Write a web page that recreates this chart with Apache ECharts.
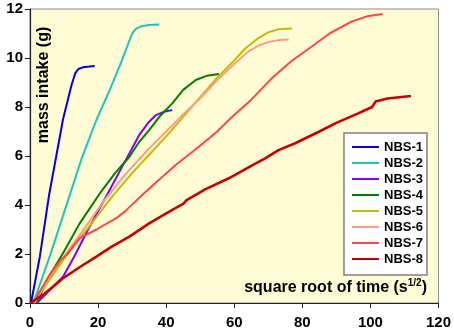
<!DOCTYPE html>
<html>
<head>
<meta charset="utf-8">
<script src="https://cdn.jsdelivr.net/npm/echarts@6/dist/echarts.min.js"></script>
<style>
  html, body { margin: 0; padding: 0; background: #fff; }
  #chart { width: 454px; height: 331px; }
</style>
</head>
<body>
<div id="chart"></div>
<script>
// values: [sqrt(t), mass intake g]
const names = ["NBS-1", "NBS-2", "NBS-3", "NBS-4", "NBS-5", "NBS-6", "NBS-7", "NBS-8"];
const colors = ["#0000ee", "#1cc4c4", "#8000ff", "#008000", "#bfbf00", "#ff9c80", "#ff4545", "#c80000"];

const nbs1 = [[0.3, 0], [2.9, 1.9], [5.6, 4.4], [9.7, 7.5], [12.2, 8.9], [13.3, 9.38], [14.2, 9.55], [15.5, 9.62], [19, 9.67]];
const nbs2 = [[1, 0], [5.8, 1.9], [11.2, 4.2], [15.1, 5.87], [19.5, 7.47], [23.4, 8.69], [27, 9.9], [30, 11.0], [31.2, 11.2], [32.8, 11.3], [35, 11.35], [38, 11.37]];
const nbs3 = [[2, 0], [5.3, 0.46], [9.7, 1.07], [13, 1.9], [17, 2.98], [23.4, 4.61], [28, 5.8], [32.1, 6.86], [35, 7.4], [37, 7.67], [39.4, 7.81], [41.8, 7.88]];
const nbs4 = [[2, 0], [5, 0.95], [9.7, 2.03], [14.6, 3.25], [20.9, 4.55], [25, 5.3], [29.2, 5.97], [32.1, 6.58], [35, 7.06], [38, 7.6], [41.8, 8.15], [45, 8.7], [48.7, 9.1], [52, 9.28], [55.5, 9.35]];
const nbs5 = [[1, 0], [5, 0.8], [10, 1.8], [15, 2.7], [20, 3.6], [24.5, 4.4], [30, 5.3], [35, 6.05], [40, 6.8], [45, 7.6], [50, 8.4], [55, 9.2], [60, 9.9], [63.3, 10.4], [67, 10.8], [70, 11.05], [73, 11.17], [77, 11.2]];
const nbs6 = [[1, 0], [5, 0.9], [10, 1.9], [15, 2.85], [21.9, 4.2], [28, 5.25], [35, 6.31], [40, 7.0], [45, 7.7], [50, 8.35], [55, 9.1], [60, 9.75], [64, 10.25], [67, 10.5], [70, 10.65], [73, 10.73], [76, 10.76]];
const nbs7 = [[1, 0], [3, 0.5], [6, 1.2], [9, 1.75], [10.7, 1.96], [14.6, 2.65], [19.5, 3.0], [25.3, 3.46], [28, 3.75], [32.1, 4.3], [36, 4.8], [42.8, 5.63], [49.6, 6.38], [55, 7.0], [59.4, 7.6], [65, 8.3], [71, 9.17], [77, 9.9], [82.7, 10.46], [88, 11.0], [94.4, 11.48], [99, 11.7], [103.6, 11.8]];
const nbs8 = [[0, 0], [4, 0.35], [9.7, 1.01], [15, 1.5], [19.5, 1.89], [24, 2.3], [29.2, 2.71], [35, 3.25], [41.8, 3.8], [45, 4.05], [46, 4.2], [51.6, 4.65], [58.4, 5.09], [65, 5.6], [69.1, 5.9], [73, 6.24], [77.9, 6.52], [85, 7.0], [90, 7.35], [96.4, 7.74], [100.5, 8.0], [101.5, 8.22], [105, 8.35], [111.9, 8.45]];
const allData = [nbs1, nbs2, nbs3, nbs4, nbs5, nbs6, nbs7, nbs8];

const chart = echarts.init(document.getElementById("chart"));
const font = "Liberation Sans, Arial, sans-serif";
// flat line icon for the legend, padded so it keeps a 27x14 box
const lineIcon = "path://M0,0L0.01,0L0.01,0.01Z M0,6L27,6L27,8L0,8Z M0,14L0.01,14L0.01,13.99Z";

chart.setOption({
  animation: false,
  grid: {
    left: 30, right: 13, top: 9, bottom: 28,
    show: true,
    backgroundColor: "#fffbd5",
    borderColor: "#8c8c8c",
    borderWidth: 1
  },
  legend: {
    orient: "vertical",
    left: 344, top: 133,
    padding: [7, 4, 9, 8],
    icon: lineIcon,
    itemWidth: 27,
    itemHeight: 14,
    itemGap: 2,
    backgroundColor: "#ffffff",
    borderColor: "#808080",
    borderWidth: 1.5,
    textStyle: { fontFamily: font, fontWeight: "bold", fontSize: 13, color: "#000" },
    data: names
  },
  xAxis: {
    type: "value",
    min: 0, max: 120, interval: 20,
    axisLine: { lineStyle: { color: "#222", width: 1.2 } },
    axisTick: { show: true, length: 5, lineStyle: { color: "#222" } },
    splitLine: { show: false },
    axisLabel: { margin: 12, fontFamily: font, fontWeight: "bold", fontSize: 15, color: "#000" }
  },
  yAxis: {
    type: "value",
    min: 0, max: 12, interval: 2,
    axisLine: { show: true, lineStyle: { color: "#222", width: 1.2 } },
    axisTick: { show: true, length: 5, lineStyle: { color: "#222" } },
    splitLine: { show: false },
    axisLabel: { margin: 7, fontFamily: font, fontWeight: "bold", fontSize: 15, color: "#000" }
  },
  graphic: [
    {
      type: "text",
      x: 44, y: 85,
      rotation: Math.PI / 2,
      style: {
        text: "mass intake (g)",
        fontFamily: font, fontWeight: "bold", fontSize: 16, fill: "#000",
        align: "center", verticalAlign: "middle"
      }
    },
    {
      type: "text",
      right: 27, top: 278,
      style: {
        text: "{a|square root of time (s}{s|1/2}{a|)}",
        rich: {
          a: { fontFamily: font, fontWeight: "bold", fontSize: 16, fill: "#000", lineHeight: 18, verticalAlign: "bottom" },
          s: { fontFamily: font, fontWeight: "bold", fontSize: 10, fill: "#000", lineHeight: 18, verticalAlign: "top" }
        }
      }
    }
  ],
  series: names.map((name, i) => ({
    name: name,
    type: "line",
    data: allData[i],
    symbol: "none",
    color: colors[i],
    lineStyle: { color: colors[i], width: i === 7 ? 2.6 : 2 }
  }))
});
</script>
</body>
</html>
